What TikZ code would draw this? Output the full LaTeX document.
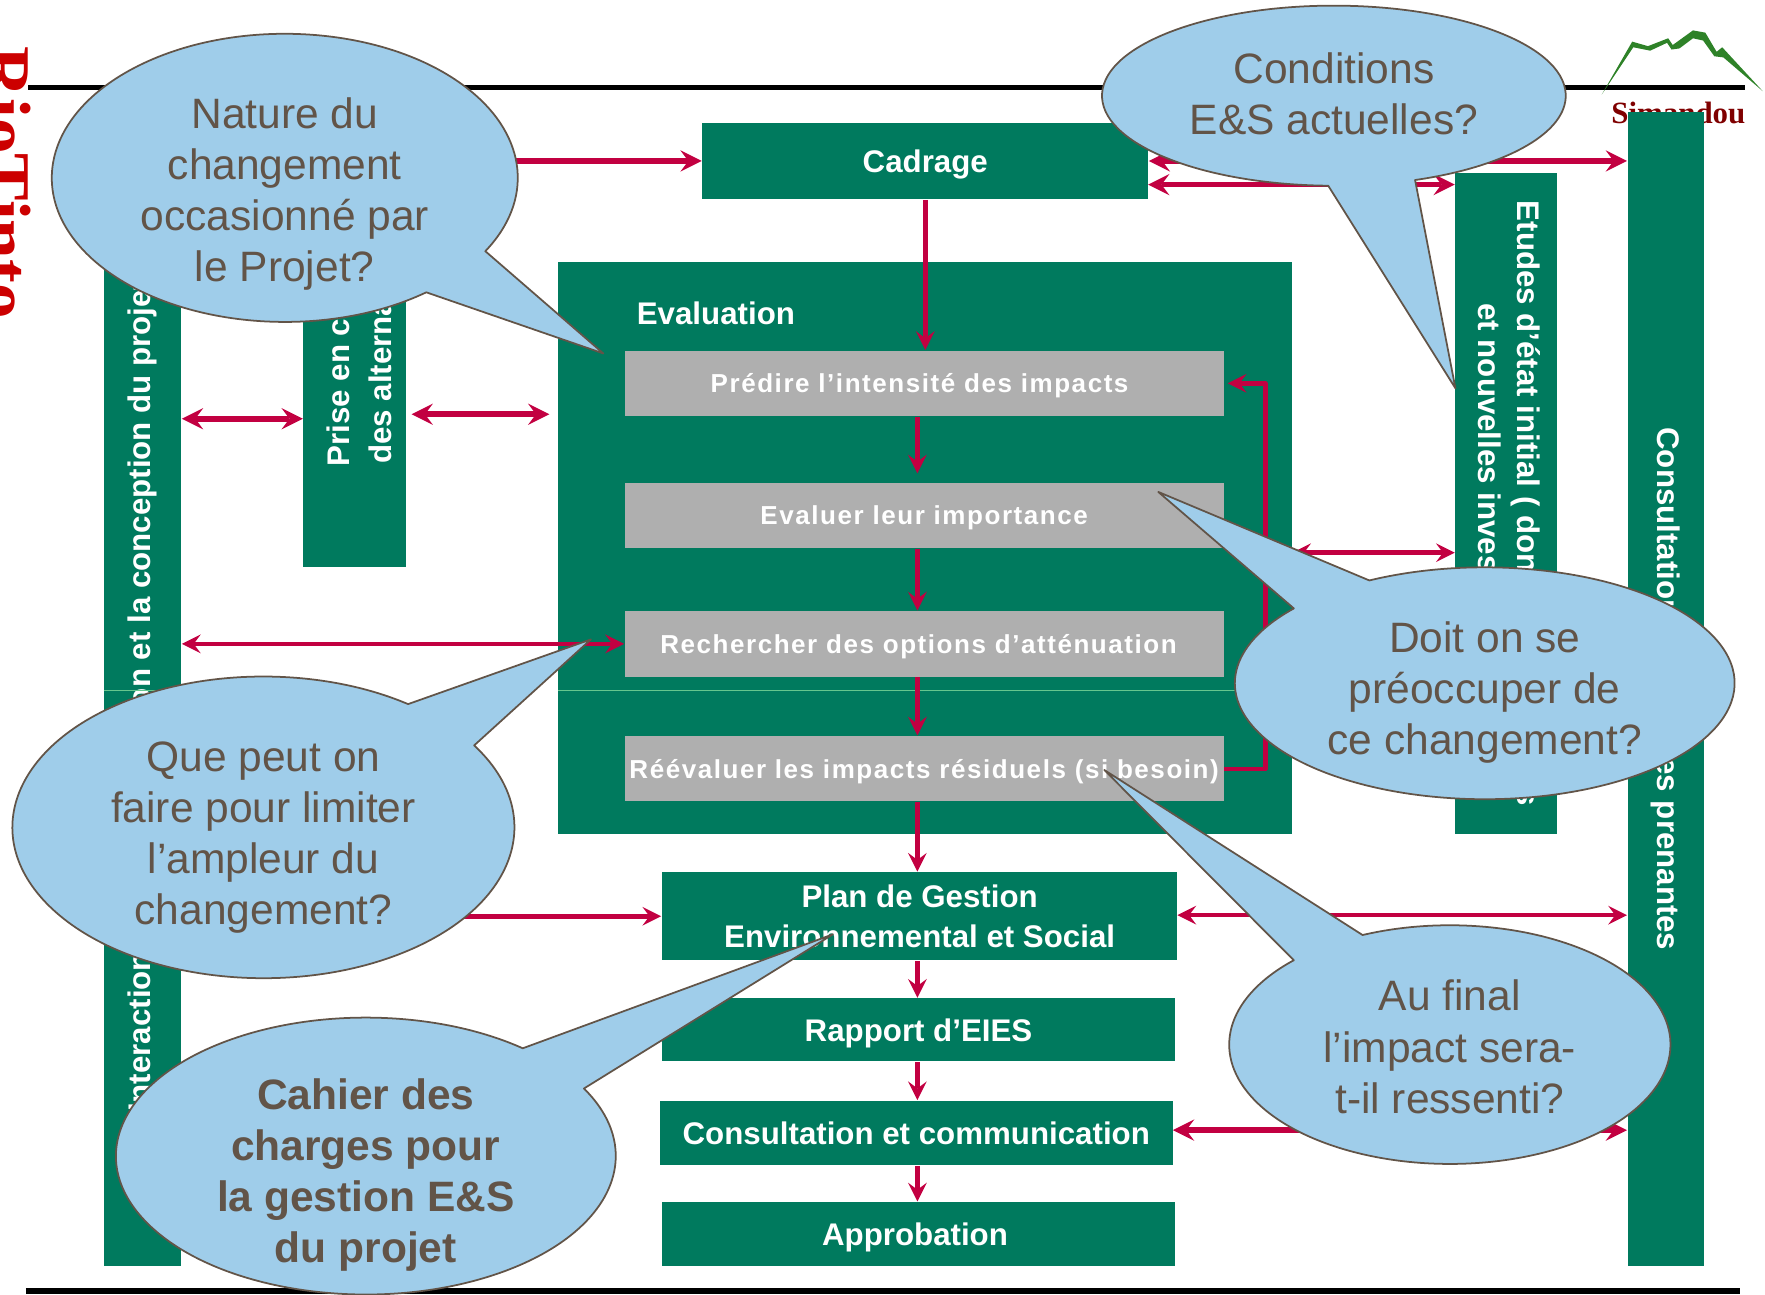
\documentclass[tikz,border=0pt]{standalone}
\usepackage{fontspec}
\setmainfont{Liberation Sans}
\newfontfamily\serifbrand{Liberation Serif}
\newfontfamily\spacedfont[LetterSpace=6]{Liberation Sans}
\definecolor{rtgreen}{RGB}{0,122,94}
\definecolor{rtgray}{RGB}{175,175,175}
\definecolor{rtlink}{RGB}{194,0,65}
\definecolor{rtblue}{RGB}{159,205,234}
\definecolor{rtbrown}{RGB}{98,84,72}
\definecolor{rtmount}{RGB}{46,130,40}
\definecolor{rtred}{RGB}{204,0,0}
\definecolor{rtdark}{RGB}{127,0,0}
\def\un{0.011256cm}
\begin{document}
\begin{tikzpicture}[x=\un,y=-\un,>=stealth,line join=round,
	box/.style={fill=rtgreen,text=white,inner sep=0pt,align=center,font=\bfseries\fontsize{8.9}{11.2}\selectfont},
	oneline/.style={text height=6.4pt,text depth=0pt},
	stage/.style={fill=rtgray,text=white,inner sep=0pt,font=\spacedfont\bfseries\fontsize{7.4}{9}\selectfont,text height=5.3pt,text depth=0pt,minimum width=532*\un,minimum height=58*\un},
	link/.style={draw=rtlink,line width=1.3pt},
	biglink/.style={draw=rtlink,line width=1.6pt},
	bubble/.style={draw=rtbrown,fill=rtblue,line width=0.5pt},
	bubbletext/.style={text=rtbrown,align=center,inner sep=0pt,font=\fontsize{12.1}{14.56}\selectfont}]
	\def\xmax{1568}
	\def\ymax{1150}
	\clip (0,0) rectangle (\xmax,\ymax);
	% entete
	\node [anchor=base west,rotate=-90,text=rtred,inner sep=0pt,font=\serifbrand\bfseries\fontsize{20.3}{21}\selectfont] (rio) at (-16,41) {RioTinto};
	\node [text=rtdark,inner sep=0pt,font=\serifbrand\bfseries\fontsize{8.8}{10}\selectfont] (simandou) at (1491,100) {Simandou};
	\coordinate (topa) at (25,78);
	\coordinate (topb) at (1550,78);
	\coordinate (bota) at (23,1147);
	\coordinate (botb) at (1546,1147);
	\draw [line width=1.5pt] (topa)--(topb);
	\draw [line width=1.5pt] (bota)--(botb);
	\fill [rtmount] (1423,84)--(1450,37)--(1464,41)--(1482,34)--(1486,40)--(1504,27)--(1515,29)--(1525,46)--(1530,42)--(1566,81)--(1531,51)--(1523,50)--(1513,36)--(1504,34)--(1492,43)--(1485,44)--(1481,38)--(1466,45)--(1451,42)--cycle;
	% barres
	\node [box,rotate=90,minimum width=1025*\un,minimum height=69*\un] (leftbar) at (126.5,612) {Interactions entre l’évaluation et la conception du projet\hspace*{3.9pt}};
	\node [box,rotate=90,minimum width=394*\un,minimum height=92*\un] (prise) at (315,307) {\rule{0pt}{9.2pt}Prise en compte\\[0.8pt]des alternatives};
	\node [box,rotate=-90,minimum width=587*\un,minimum height=90*\un] (etudes) at (1338,447) {Etudes d’état initial ( données existantes\\et nouvelles investigations};
	\node [box,rotate=-90,minimum width=1025*\un,minimum height=68*\un] (consult) at (1480,612) {Consultation des parties prenantes};
	% blocs
	\node [box,oneline,minimum width=396*\un,minimum height=68*\un] (cadrage) at (822,143) {Cadrage};
	\node [box,minimum width=652*\un,minimum height=508*\un] (eval) at (822,487) {};
	\node [text=white,inner sep=0pt,font=\bfseries\fontsize{8.9}{11}\selectfont] (evaltitle) at (636,278) {Evaluation};
	\node [stage] (predire) at (821,340.5) {Prédire l’intensité des impacts\hspace*{2.6pt}};
	\node [stage] (evaluer) at (821,458) {Evaluer leur importance};
	\node [stage] (rechercher) at (821,572) {Rechercher des options d’atténuation\hspace*{3.2pt}};
	\node [stage] (reevaluer) at (821,683) {Réévaluer les impacts résiduels (si besoin)};
	\node [box,minimum width=458*\un,minimum height=78*\un] (plan) at (817,814) {Plan de Gestion\\Environnemental et Social};
	\node [box,oneline,minimum width=456*\un,minimum height=56*\un] (rapport) at (816,915) {Rapport d’EIES};
	\node [box,oneline,minimum width=456*\un,minimum height=57*\un] (consultation) at (814,1006.5) {Consultation et communication};
	\node [box,oneline,minimum width=456*\un,minimum height=57*\un] (approbation) at (816,1096.5) {Approbation\hspace*{2pt}};
	\draw [green!30!rtgreen!60!white,line width=0.3pt] (92,613)--(160,613) (496,613)--(1148,613);
	% liens
	\coordinate (spine) at (815,0);
	\coordinate (retour) at (1124,500);
	\coordinate (cadlow) at (1020,164);
	\coordinate (barprise) at (269,372);
	\coordinate (priseval) at (488,368);
	\coordinate (evaletudes) at (1148,491);
	\coordinate (planright) at (1046,813);
	\coordinate (consright) at (1042,1004);
	\draw [link,->] (cadrage.south)--(cadrage.south |- predire.north);
	\draw [link,->,shorten >=2.5pt] (predire.south -| spine)--(evaluer.north -| spine);
	\draw [link,->] (evaluer.south -| spine)--(rechercher.north -| spine);
	\draw [link,->] (rechercher.south -| spine)--(reevaluer.north -| spine);
	\draw [link,->] (reevaluer.south -| spine)--(plan.north -| spine);
	\draw [link,->] (plan.south -| spine)--(rapport.north -| spine);
	\draw [link,->] (rapport.south -| spine)--(consultation.north -| spine);
	\draw [link,->] (consultation.south -| spine)--(approbation.north -| spine);
	\draw [link,->,shorten >=1pt] (reevaluer.east) -| (retour) |- (predire.east);
	\draw [biglink,<->] (cadrage.west -| leftbar.south)--(cadrage.west);
	\draw [biglink,<->] (cadrage.east)--(cadrage.east -| consult.south);
	\draw [biglink,<->] (cadlow)--(cadlow -| etudes.south);
	\draw [biglink,<->] (barprise -| leftbar.south)--(barprise);
	\draw [biglink,<->,shorten <=1.3pt] (priseval -| prise.south)--(priseval);
	\draw [link,<->] (rechercher.west -| leftbar.south)--(rechercher.west);
	\draw [link,<->] (plan.west -| leftbar.south)--(plan.west);
	\draw [link,<->] (evaletudes)--(evaletudes -| etudes.south);
	\draw [link,<->] (planright)--(planright -| consult.south);
	\draw [biglink,<->] (consright)--(consright -| consult.south);
	% bulles
	\draw [bubble] (253,158) ++(52.6:207 and 128) arc [start angle=52.6,end angle=390.6,x radius=207,y radius=128]--(536,314)--cycle;
	\draw [bubble] (1185,85) ++(91.4:206 and 80) arc [start angle=91.4,end angle=429.5,x radius=206,y radius=80]--(1293,345)--cycle;
	\draw [bubble] (1319,607) ++(242.5:222 and 103) arc [start angle=242.5,end angle=580.2,x radius=222,y radius=103]--(1029,437)--cycle;
	\draw [bubble] (1288,928) ++(246.7:196 and 106) arc [start angle=246.7,end angle=585,x radius=196,y radius=106]--(981,684)--cycle;
	\draw [bubble] (234,735) ++(327.1:223 and 134) arc [start angle=327.1,end angle=665.2,x radius=223,y radius=134]--(525,568)--cycle;
	\draw [bubble] (325,1027) ++(330.8:222 and 123) arc [start angle=330.8,end angle=668.9,x radius=222,y radius=123]--(740,830)--cycle;
	\node [bubbletext] (nature) at (253,172.5) {Nature du\\changement\\occasionné par\\le Projet?};
	\node [bubbletext] (conditions) at (1185,83.5) {Conditions\\E\&S actuelles?};
	\node [bubbletext] (doit) at (1319,615.5) {Doit on se\\préoccuper de\\ce changement?};
	\node [bubbletext] (final) at (1288,930) {Au final\\l’impact sera-\\t-il ressenti?};
	\node [bubbletext] (limiter) at (234,744) {Que peut on\\faire pour limiter\\l’ampleur du\\changement?};
	\node [bubbletext,font=\bfseries\fontsize{12.1}{14.56}\selectfont] (cahier) at (325,1044) {Cahier des\\charges pour\\la gestion E\&S\\du projet};
\end{tikzpicture}
\end{document}
